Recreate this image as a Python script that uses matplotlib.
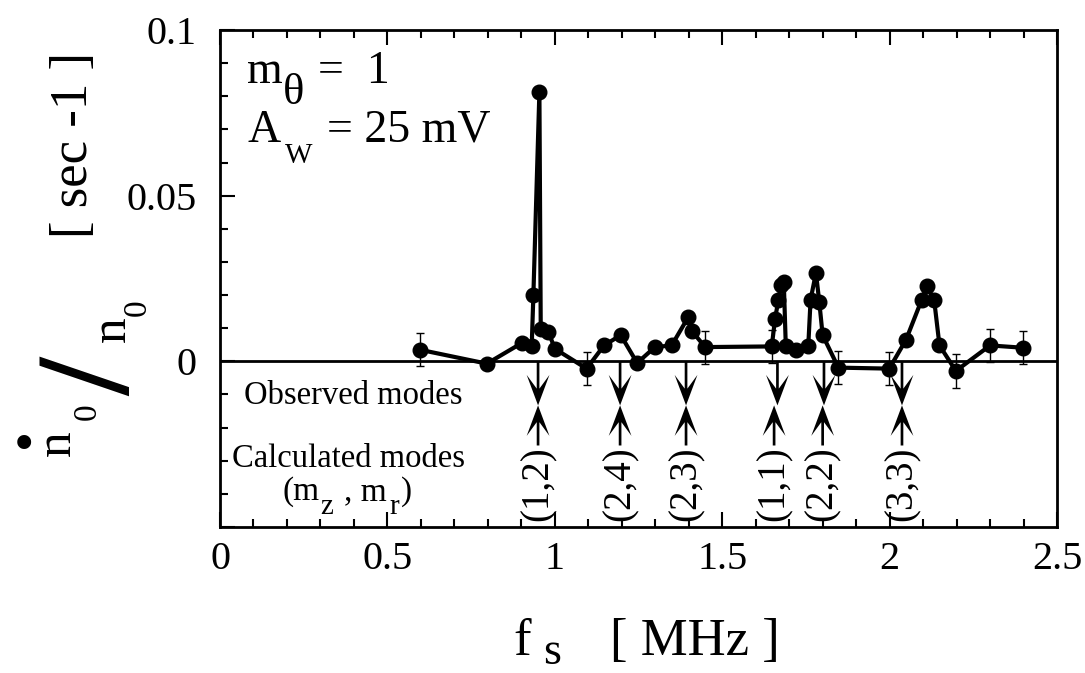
import numpy as np
import matplotlib
matplotlib.use("Agg")
import matplotlib.pyplot as plt
from matplotlib.ticker import MultipleLocator

plt.rcParams['font.family'] = ['Liberation Serif', 'DejaVu Serif']
plt.rcParams['mathtext.fontset'] = 'custom'
plt.rcParams['mathtext.rm'] = 'Liberation Serif'
plt.rcParams['mathtext.it'] = 'Liberation Serif'

W, H = 1085, 673

# measured growth rate vs. frequency
freq = [0.597, 0.797, 0.901, 0.931, 0.936, 0.954, 0.958, 0.981, 1.000,
        1.095, 1.147, 1.197, 1.246, 1.299, 1.349, 1.399, 1.409, 1.449,
        1.648, 1.658, 1.668, 1.676, 1.684, 1.690, 1.720, 1.757, 1.764,
        1.780, 1.790, 1.800, 1.847, 1.999, 2.049, 2.096, 2.111, 2.133,
        2.149, 2.198, 2.300, 2.399]
rate = [0.0035, -0.0007, 0.0055, 0.0045, 0.0199, 0.0813, 0.0099, 0.0089, 0.0038,
        -0.0022, 0.0048, 0.0079, -0.0005, 0.0043, 0.0048, 0.0134, 0.0092, 0.0043,
        0.0045, 0.0129, 0.0186, 0.0230, 0.0238, 0.0045, 0.0035, 0.0045, 0.0186,
        0.0267, 0.0179, 0.0079, -0.0019, -0.0022, 0.0065, 0.0186, 0.0227, 0.0186,
        0.0048, -0.0029, 0.0048, 0.0041]

# points drawn with error bars
err_freq = [0.597, 1.095, 1.449, 1.648, 1.847, 1.999, 2.198, 2.300, 2.399]
err_rate = [0.0035, -0.0022, 0.0043, 0.0045, -0.0019, -0.0022, -0.0029, 0.0048, 0.0041]
err_half = [0.005, 0.005, 0.005, 0.005, 0.005, 0.005, 0.005, 0.005, 0.005]

# observed / calculated mode frequencies
obs_modes = [0.950, 1.195, 1.392, 1.665, 1.804, 2.037]
calc_modes = [0.950, 1.195, 1.392, 1.655, 1.800, 2.037]
mode_labels = ['(1,2)', '(2,4)', '(2,3)', '(1,1)', '(2,2)', '(3,3)']

xticks = [0, 0.5, 1, 1.5, 2, 2.5]
xticklabels = ['0', '0.5', '1', '1.5', '2', '2.5']
yticks = [-0.05, 0, 0.05, 0.1]
yticklabels = ['', '0', '0.05', '0.1']


def ftext(x, y, s, **kw):
    # place text by pixel position in the figure
    fig.text(x / W, 1 - y / H, s, **kw)


fig = plt.figure(figsize=(W / 100, H / 100), dpi=100)
ax = fig.add_axes([220 / W, 1 - 527 / H, (1057 - 220) / W, (527 - 30) / H])

ax.errorbar(err_freq, err_rate, yerr=err_half, fmt='none', ecolor='k',
            elinewidth=1.0, capsize=3.2, capthick=1.0, zorder=2)
ax.plot(freq, rate, '-o', color='k', lw=3, ms=10.5, zorder=3)
ax.axhline(0, color='k', lw=2, zorder=2)

for x in obs_modes:
    ax.arrow(x, 0, 0, -0.0133, width=0.008, head_width=0.068, head_length=0.0092,
             overhang=0.45, length_includes_head=True, fc='k', ec='k', lw=0)
for x, lab in zip(calc_modes, mode_labels):
    ax.arrow(x, -0.0254, 0, 0.0121, width=0.008, head_width=0.068, head_length=0.0092,
             overhang=0.45, length_includes_head=True, fc='k', ec='k', lw=0)
    ax.text(x, -0.0256, lab, rotation=90, ha='center', va='top', fontsize=28)

ax.text(0.397, -0.0103, 'Observed modes', ha='center', va='center', fontsize=23.5)
ax.text(0.385, -0.0293, 'Calculated modes', ha='center', va='center', fontsize=23.5)

ax.set_xlim(0, 2.5)
ax.set_ylim(-0.05, 0.1)
ax.set_xticks(xticks)
ax.set_xticklabels(xticklabels)
ax.set_yticks(yticks)
ax.set_yticklabels(yticklabels)
ax.xaxis.set_minor_locator(MultipleLocator(0.1))
ax.yaxis.set_minor_locator(MultipleLocator(0.01))
ax.tick_params(which='both', direction='in', top=True, right=False, width=1.5, labelsize=29)
ax.tick_params(which='major', length=11)
ax.tick_params(which='minor', length=6)
ax.tick_params(axis='x', pad=10)
ax.tick_params(axis='y', pad=17)
for s in ax.spines.values():
    s.set_linewidth(2)

# (m_z , m_r) under "Calculated modes"
ftext(283, 500, '(m', fontsize=24, ha='left', va='baseline')
ftext(320, 514, 'z', fontsize=21, ha='left', va='baseline')
ftext(344, 500, ', m', fontsize=24, ha='left', va='baseline')
ftext(389, 514, 'r', fontsize=21, ha='left', va='baseline')
ftext(401, 500, ')', fontsize=24, ha='left', va='baseline')

# top-left parameters
ftext(247, 83, 'm', fontsize=33, ha='left', va='baseline')
ftext(283, 104, '\u03b8', fontsize=32, ha='left', va='baseline')
ftext(318, 83, '=  1', fontsize=33, ha='left', va='baseline')
ftext(247, 142, 'A', fontsize=33, ha='left', va='baseline')
ftext(285, 163, 'W', fontsize=21, ha='left', va='baseline')
ftext(327, 142, '= 25 mV', fontsize=33, ha='left', va='baseline')

# y label: dot-n0 / n0 [ sec -1 ]
rot = dict(rotation=90, rotation_mode='anchor')
ftext(74, 145, '[ sec -1 ]', rotation=90, fontsize=38, ha='center', va='center')
ftext(125, 329, 'n', fontsize=37, ha='center', va='baseline', **rot)
ftext(146, 308, '0', fontsize=24, ha='center', va='baseline', **rot)
ftext(130, 377, '/', fontsize=96, fontweight='bold', ha='center', va='baseline', **rot)
ftext(70, 443, 'n', fontsize=37, ha='center', va='baseline', **rot)
ftext(96, 412, '0', fontsize=24, ha='center', va='baseline', **rot)
ftext(24, 447, '\u2022', fontsize=42, ha='center', va='center')

# x label: f_s [ MHz ]
ftext(513, 655, 'f', fontsize=38, ha='left', va='baseline')
ftext(543, 664, 's', fontsize=33, ha='left', va='baseline')
ftext(610, 655, '[ MHz ]', fontsize=38, ha='left', va='baseline')

fig.savefig('out.png', dpi=100)
